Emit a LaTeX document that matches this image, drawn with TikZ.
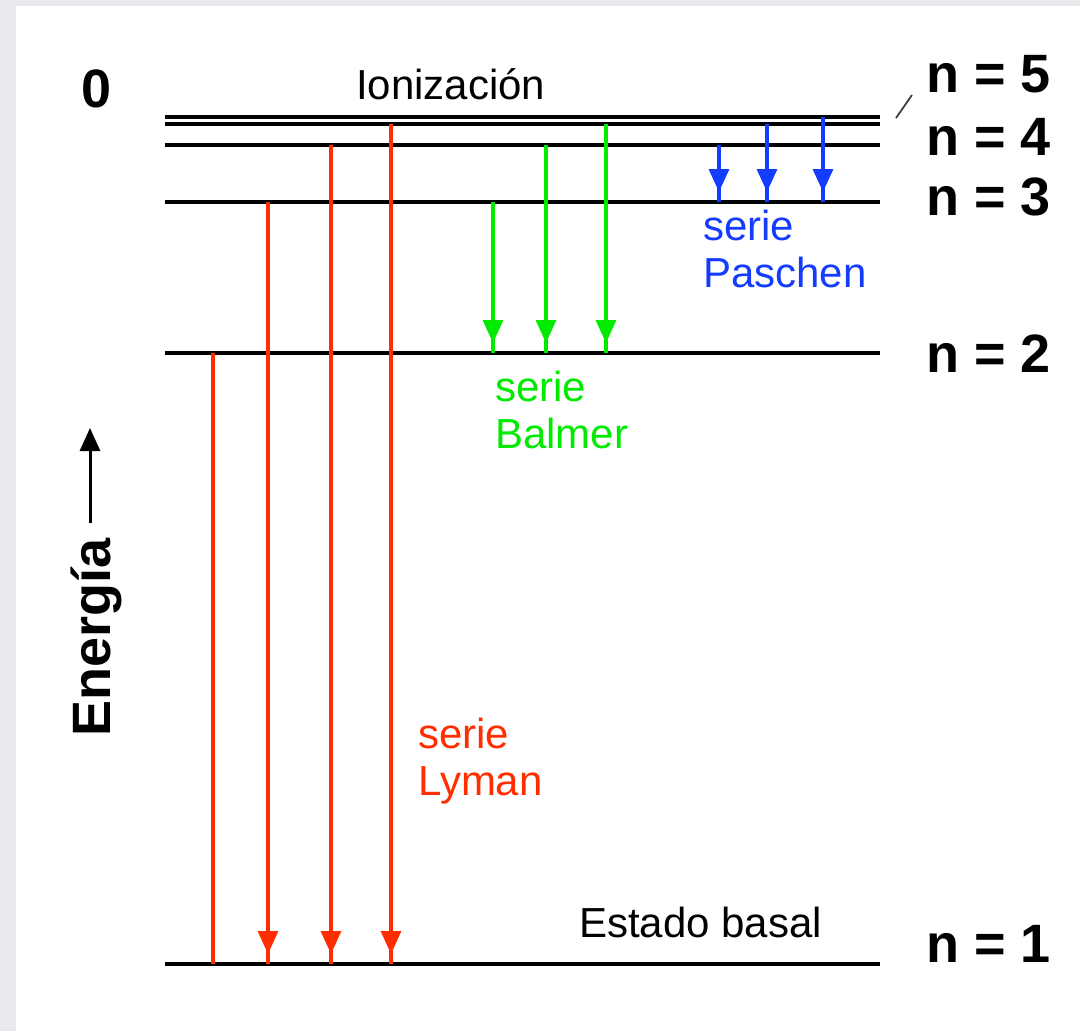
\documentclass[tikz,border=0pt]{standalone}
\usepackage{fontspec}
\setmainfont{Liberation Sans}
\usetikzlibrary{arrows.meta,decorations.markings}

\definecolor{frame}{RGB}{233,234,238}
\definecolor{lymanred}{RGB}{255,45,0}
\definecolor{balmergreen}{RGB}{0,235,0}
\definecolor{paschenblue}{RGB}{20,60,255}

\begin{document}
\begin{tikzpicture}[
    x=1pt, y=-1pt,
    level/.style={line width=3.2pt, black},
    trans/.style={line width=3.2pt},
    tipped/.style={postaction={decorate}, decoration={markings,
        mark=at position -10pt with {\arrow{Triangle[width=20pt,length=23pt]}}}},
    lyman/.style={trans, lymanred},
    balmer/.style={trans, balmergreen},
    paschen/.style={trans, paschenblue},
    nlabel/.style={anchor=base west, inner sep=0pt, font=\fontsize{54}{60}\selectfont\bfseries},
    txt/.style={anchor=base west, inner sep=0pt, align=left, font=\fontsize{42}{47}\selectfont}
  ]
    % frame and canvas
    \useasboundingbox (0,0) rectangle (1080,1031);
    \fill[frame] (0,0) rectangle (1080,1031);
    \fill[white] (16,6) rectangle (1080,1031);

    % energy levels
    \foreach \n/\y in {ion/117,5/124,4/145,3/202,2/353,1/964} {
      \coordinate (L\n) at (165,\y);
      \coordinate (R\n) at (880,\y);
      \draw[level] (L\n) -- (R\n);
    }

    % Lyman
    \draw[lyman] (213,0 |- L2) -- (213,0 |- L1);
    \foreach \x/\s in {268/3,331/4,391/5}
      \draw[lyman,tipped] (\x,0 |- L\s) -- (\x,0 |- L1);
    % Balmer
    \foreach \x/\s in {493/3,546/4,606/5}
      \draw[balmer,tipped] (\x,0 |- L\s) -- (\x,0 |- L2);
    % Paschen
    \foreach \x/\s in {719/4,767/5,823/ion}
      \draw[paschen,tipped] (\x,0 |- L\s) -- (\x,0 |- L3);

    % level names
    \node[nlabel] (lab5) at (926,92) {n = 5};
    \node[nlabel] (lab4) at (926,155) {n = 4};
    \node[nlabel] (lab3) at (926,215) {n = 3};
    \node[nlabel] (lab2) at (926,372) {n = 2};
    \node[nlabel] (lab1) at (926,962) {n = 1};
    \node[nlabel] (zero) at (81,107) {0};
    \coordinate (tickA) at (896,118);
    \coordinate (tickB) at (912,95);
    \draw[line width=1.8pt, black!75] (tickA) -- (tickB);

    \node[txt] (ion) at (356,99) {Ionización};
    \node[txt] (basal) at (579,937) {Estado basal};
    \node[txt, paschenblue] (paschen) at (703,287) {serie\\Paschen};
    \node[txt, balmergreen] (balmer) at (495,448) {serie\\Balmer};
    \node[txt, lymanred] (lyman) at (418,795) {serie\\Lyman};

    % energy axis
    \node[nlabel, rotate=90] (energia) at (110,737) {Energía};
    \coordinate (axtop) at (90,428);
    \draw[line width=3pt, -{Triangle[width=20pt,length=23pt]}] (90,523) -- (axtop);
\end{tikzpicture}
\end{document}
